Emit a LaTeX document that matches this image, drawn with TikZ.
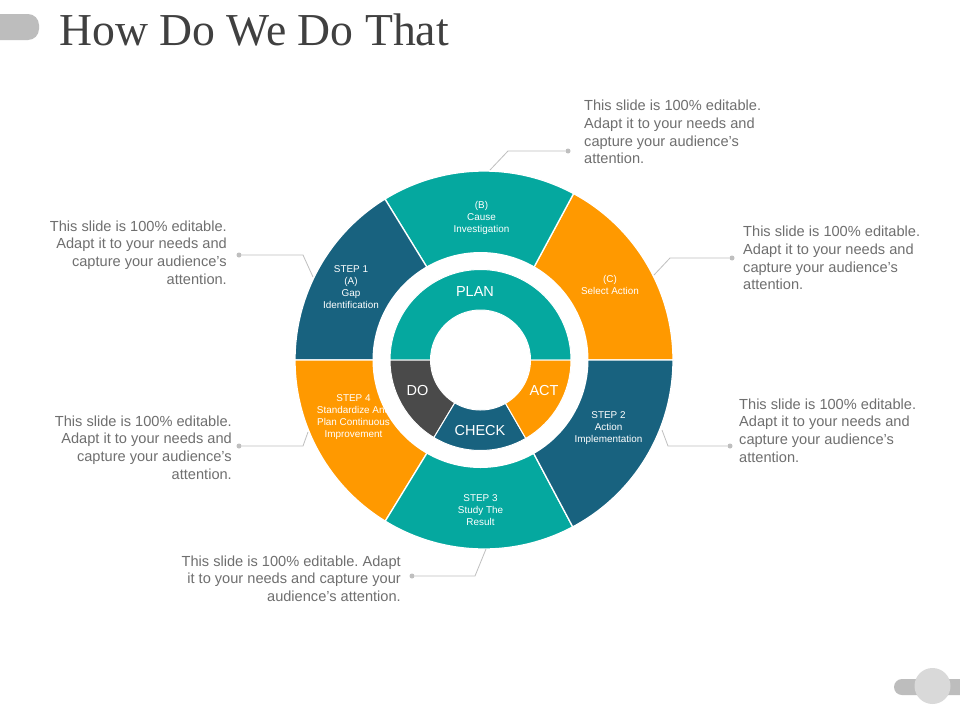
\documentclass[tikz,border=0pt]{standalone}
\usepackage{fontspec}
\setmainfont{Liberation Sans}
\newfontfamily\titlefont{Liberation Serif}
\frenchspacing
\newcommand{\apos}{\char"27 }
\definecolor{cteal}{HTML}{05A89F}
\definecolor{cblue}{HTML}{18627F}
\definecolor{corange}{HTML}{FF9900}
\definecolor{cdark}{HTML}{4A4A4A}
\definecolor{ctext}{HTML}{6F6F6F}
\definecolor{ctitle}{HTML}{404040}
\definecolor{cleader}{HTML}{BFBFBF}
\definecolor{cpill}{HTML}{BDBDBD}
\definecolor{cknob}{HTML}{D9D9D9}
\newcommand{\outerseg}[3]{\fill[#3,draw=white,line width=1.3pt] (484pt,-360pt) -- ++(#1:189pt) arc[start angle=#1,end angle=#2,radius=189pt] -- cycle;}
\newcommand{\innerseg}[3]{\fill[#3,draw=white,line width=1pt] (480.5pt,-360pt)++(#1:90.5pt) arc[start angle=#1,end angle=#2,radius=90.5pt] -- ++(#2+180:40.5pt) arc[start angle=#2,end angle=#1,radius=50pt] -- cycle;}
\tikzset{
  x=1pt,y=1pt,
  note/.style={text=ctext,font=\fontsize{14.6}{17.7}\selectfont,inner sep=0pt},
  noteL/.style={note,anchor=west,align=left},
  noteR/.style={note,anchor=east,align=right},
  seglabel/.style={text=white,font=\fontsize{9.9}{12}\selectfont,align=center,inner sep=0pt},
  corelabel/.style={text=white,font=\fontsize{14.5}{17}\selectfont,inner sep=0pt},
  leader/.style={draw=cleader,line width=0.8pt},
  leaderdot/.style={circle,fill=cleader,inner sep=0pt,minimum size=5pt}
}
\begin{document}
\begin{tikzpicture}
\useasboundingbox (0,-720) rectangle (960,0);
\fill[white] (0,-720) rectangle (960,0);
% corner marks
\begin{scope}
\clip (0,-720) rectangle (960,0);
\fill[cpill,rounded corners=11pt] (-20,-40) rectangle (39,-14);
\fill[cpill,rounded corners=8pt] (894,-695) rectangle (990,-679);
\fill[cknob] (932.5,-686) circle (18);
\end{scope}
\node[anchor=base west,text=ctitle,font=\titlefont\fontsize{45.7}{50}\selectfont,inner sep=0pt] (title) at (59,-45) {How Do We Do That};
% outer ring
\outerseg{0}{61.7}{corange}
\outerseg{61.7}{121.6}{cteal}
\outerseg{121.6}{180}{cblue}
\outerseg{180}{238.5}{corange}
\outerseg{238.5}{298}{cteal}
\outerseg{298}{360}{cblue}
% outer labels
\node[seglabel] (lb) at (481.5,-217.5) {(B)\\Cause\\Investigation};
\node[seglabel] (lc) at (610,-284.5) {(C)\\Select Action};
\node[seglabel] (la) at (351,-287) {STEP 1\\(A)\\Gap\\Identification};
\node[seglabel] (l2) at (608.5,-428) {STEP 2\\Action\\Implementation};
\node[seglabel] (l3) at (480.5,-510) {STEP 3\\Study The\\Result};
\node[seglabel] (l4) at (353.5,-417.5) {STEP 4\\Standardize And\\Plan Continuous\\Improvement};
% white gap and inner ring
\fill[white] (480.5,-360) circle (108);
\innerseg{0}{180}{cteal}
\innerseg{180}{239}{cdark}
\innerseg{239}{300}{cblue}
\innerseg{300}{360}{corange}
\node[corelabel] (plan) at (475,-292) {PLAN};
\node[corelabel] (do) at (417.5,-391) {DO};
\node[corelabel] (check) at (480,-431) {CHECK};
\node[corelabel] (act) at (544,-391) {ACT};
% notes
\node[noteL] (n1) at (584,-132) {This slide is 100\% editable.\\Adapt it to your needs and\\capture your audience\apos s\\attention.};
\node[noteL] (n2) at (743,-258) {This slide is 100\% editable.\\Adapt it to your needs and\\capture your audience\apos s\\attention.};
\node[noteL] (n3) at (739,-430.5) {This slide is 100\% editable.\\Adapt it to your needs and\\capture your audience\apos s\\attention.};
\node[noteR] (n4) at (227,-252.5) {This slide is 100\% editable.\\Adapt it to your needs and\\capture your audience\apos s\\attention.};
\node[noteR] (n5) at (232,-447.5) {This slide is 100\% editable.\\Adapt it to your needs and\\capture your audience\apos s\\attention.};
\node[noteR] (n6) at (401,-578.5) {This slide is 100\% editable. Adapt\\it to your needs and capture your\\audience\apos s attention.};
% leaders
\node[leaderdot] (d1) at (568,-151) {};
\node[leaderdot] (d2) at (732,-258) {};
\node[leaderdot] (d3) at (730,-446) {};
\node[leaderdot] (d4) at (239,-255) {};
\node[leaderdot] (d5) at (239,-446) {};
\node[leaderdot] (d6) at (412,-576) {};
\coordinate (s1) at (490,-170);
\coordinate (s2) at (654,-275);
\coordinate (s3) at (662,-430);
\coordinate (s4) at (313,-277);
\coordinate (s5) at (308,-432);
\coordinate (s6) at (486,-549);
\draw[leader] (d1) -- (508,-151) -- (s1);
\draw[leader] (d2) -- (670,-258) -- (s2);
\draw[leader] (d3) -- (668,-446) -- (s3);
\draw[leader] (d4) -- (303,-255) -- (s4);
\draw[leader] (d5) -- (303,-446) -- (s5);
\draw[leader] (d6) -- (475,-576) -- (s6);
\end{tikzpicture}
\end{document}
